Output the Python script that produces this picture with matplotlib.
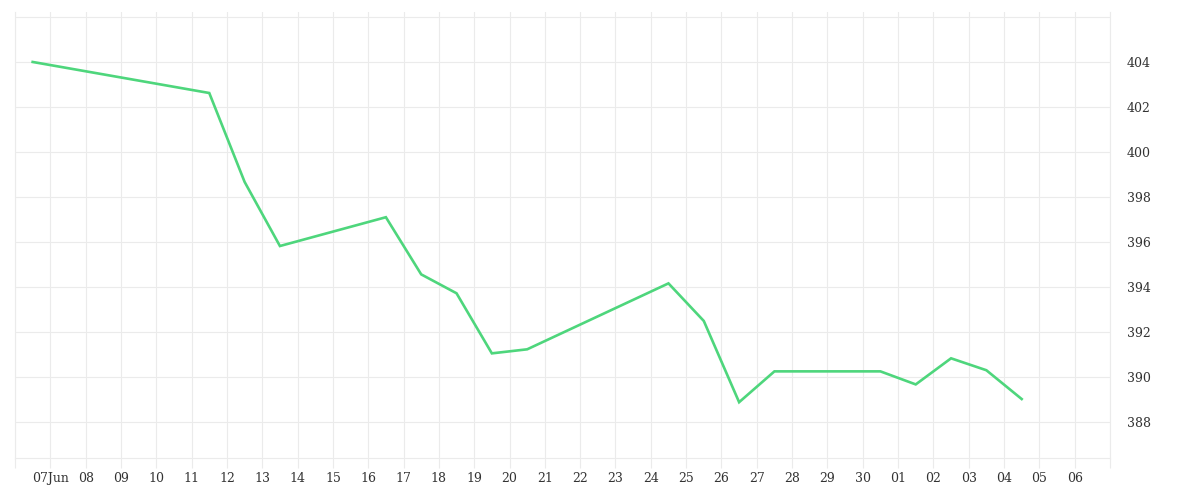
import matplotlib
matplotlib.use("Agg")
import matplotlib.pyplot as plt
import matplotlib.dates as mdates
import pandas as pd

# Data
dates = ["2024-06-06 12:00", "2024-06-11 12:00", "2024-06-12 12:00", "2024-06-13 12:00",
         "2024-06-16 12:00", "2024-06-17 12:00", "2024-06-18 12:00", "2024-06-19 12:00",
         "2024-06-20 12:00", "2024-06-24 12:00", "2024-06-25 12:00", "2024-06-26 12:00",
         "2024-06-27 12:00", "2024-06-30 12:00", "2024-07-01 12:00", "2024-07-02 12:00",
         "2024-07-03 12:00", "2024-07-04 12:00"]
values = [404.0, 402.62, 398.67, 395.82, 397.10, 394.56, 393.72, 391.05, 391.23,
          394.16, 392.49, 388.88, 390.25, 390.25, 389.67, 390.83, 390.30, 389.02]
y_ticks = [388, 390, 392, 394, 396, 398, 400, 402, 404]

x = pd.to_datetime(dates)
grid_c = "#ebebeb"
line_c = "#4ed67c"
text_c = "#333333"

fig = plt.figure(figsize=(12, 5), dpi=100)
ax = fig.add_axes([15/1200, 1-458/500, (1110-15)/1200, (458-12)/500])

ax.plot(x, values, color=line_c, lw=1.9, solid_joinstyle="miter", zorder=3)

ax.set_xlim(pd.Timestamp("2024-06-06"), pd.Timestamp("2024-07-07"))
ax.set_ylim(386.4, 406.22)

days = pd.date_range("2024-06-06", "2024-07-07", freq="D")
ax.set_xticks(days)
labels = []
for d in days:
    if d == days[0] or d == days[-1]:
        labels.append("")
    elif d == pd.Timestamp("2024-06-07"):
        labels.append(d.strftime("%d") + "Jun")
    else:
        labels.append(d.strftime("%d"))
ax.set_xticklabels(labels)
ax.tick_params(axis="x", length=7.2, width=0.8, color=grid_c, pad=3,
               labelsize=9, labelcolor=text_c)
for lab in ax.get_xticklabels():
    lab.set_fontfamily(["DejaVu Serif"])

ax.yaxis.tick_right()
ax.set_yticks(y_ticks)
ax.set_yticklabels([str(v) for v in y_ticks])
ax.tick_params(axis="y", length=0, pad=12, labelsize=9, labelcolor=text_c)
for lab in ax.get_yticklabels():
    lab.set_fontfamily(["DejaVu Serif"])

ax.grid(True, color=grid_c, lw=0.8, zorder=0)
ax.axhline(406.0, color=grid_c, lw=0.8, zorder=0)
for s in ["top"]:
    ax.spines[s].set_visible(False)
for s in ["left", "right", "bottom"]:
    ax.spines[s].set_color(grid_c)
    ax.spines[s].set_linewidth(0.8)

fig.savefig("out.png", dpi=100, facecolor="white")
